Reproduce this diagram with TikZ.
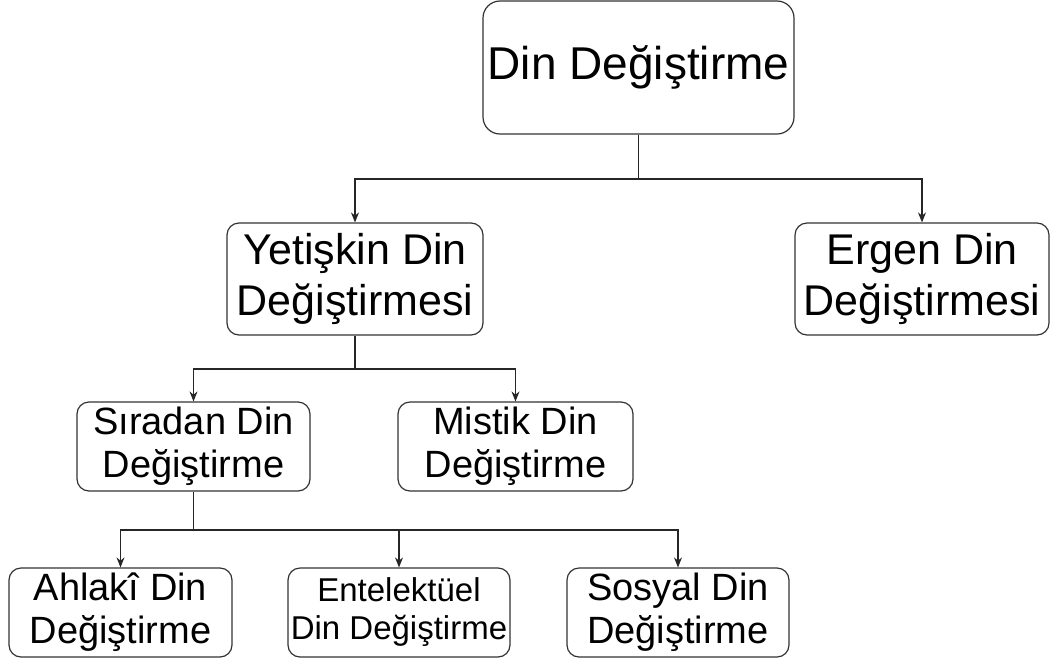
\documentclass[tikz,border=0pt]{standalone}
\usepackage{fontspec}
\setmainfont{Liberation Sans}
\usetikzlibrary{arrows.meta,positioning}

\begin{document}
\begin{tikzpicture}[x = 1pt, y = -1pt,
    box/.style = {draw = black!80, line width = 1.2pt, rounded corners = 12pt, align = center, inner sep = 0pt},
    lvltwo/.style = {box, font = \fontsize{43}{51}\selectfont, minimum height = 112pt},
    lvlthree/.style = {box, font = \fontsize{38}{43}\selectfont, minimum height = 89pt},
    link/.style = {draw = black!85, line width = 1.2pt},
    arr/.style = {link, -{Stealth[length = 10pt, width = 8pt]}}]
    \useasboundingbox (0, 0) rectangle (1051, 664);

    \node [box, rounded corners = 17pt, font = \fontsize{46}{55}\selectfont, minimum width = 311pt, minimum height = 133pt] (din) at (638.5, 67.5) {Din Değiştirme};

    \node [lvltwo, minimum width = 256pt] (yetiskin) at (355, 279) {Yetişkin Din\\Değiştirmesi};
    \node [lvltwo, minimum width = 254pt] (ergen) at (922, 279) {Ergen Din\\Değiştirmesi};

    \node [lvlthree, minimum width = 233pt] (siradan) at (193.5, 446.5) {Sıradan Din\\Değiştirme};
    \node [lvlthree, minimum width = 235pt] (mistik) at (515.5, 446.5) {Mistik Din\\Değiştirme};

    \node [lvlthree, minimum width = 223pt] (ahlaki) at (120.5, 612.5) {Ahlakî Din\\Değiştirme};
    \node [box, font = \fontsize{33}{38}\selectfont, minimum width = 222pt, minimum height = 89pt] (entelektuel) at (399, 612.5) {Entelektüel\\Din Değiştirme};
    \node [lvlthree, minimum width = 222pt] (sosyal) at (678, 612.5) {Sosyal Din\\Değiştirme};

    \coordinate (j1) at (638.5, 179);
    \draw [link] (din.south) -- (j1);
    \draw [arr] (j1) -| (yetiskin.north);
    \draw [arr] (j1) -| (ergen.north);

    \coordinate (j2) at (355, 369);
    \draw [link] (yetiskin.south) -- (j2);
    \draw [arr] (j2) -| (siradan.north);
    \draw [arr] (j2) -| (mistik.north);

    \coordinate (j3) at (193.5, 530);
    \draw [link] (siradan.south) -- (j3);
    \draw [arr] (j3) -| (ahlaki.north);
    \draw [arr] (j3) -| (entelektuel.north);
    \draw [arr] (j3) -| (sosyal.north);
\end{tikzpicture}
\end{document}
